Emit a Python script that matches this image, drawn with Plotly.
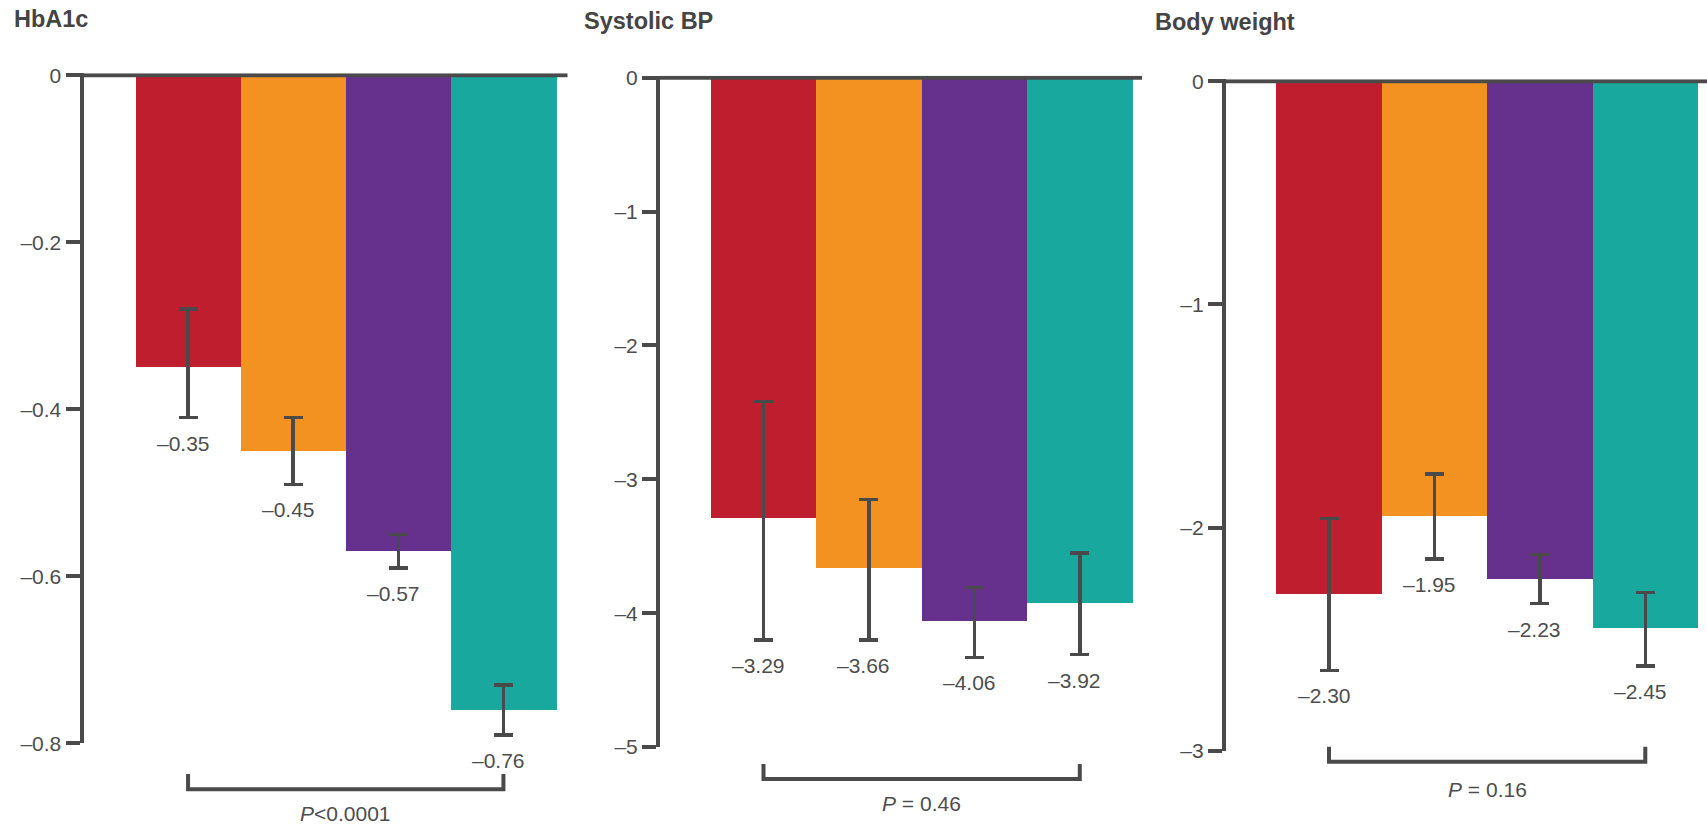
import plotly.graph_objects as go

W, H = 1707, 827

# Treatment arms (one bar per arm in every panel)
arms = [0, 1, 2, 3]
arm_colors = ["#BE1E2E", "#F39220", "#66308D", "#19A89D"]

# HbA1c change
hba1c_mean = [-0.35, -0.45, -0.57, -0.76]
hba1c_ci_upper = [-0.28, -0.41, -0.55, -0.73]
hba1c_ci_lower = [-0.41, -0.49, -0.59, -0.79]
hba1c_ticks = [0, -0.2, -0.4, -0.6, -0.8]
hba1c_ticktext = ["0", "–0.2", "–0.4", "–0.6", "–0.8"]

# Systolic blood pressure change
sbp_mean = [-3.29, -3.66, -4.06, -3.92]
sbp_ci_upper = [-2.42, -3.15, -3.81, -3.55]
sbp_ci_lower = [-4.20, -4.20, -4.33, -4.31]
sbp_ticks = [0, -1, -2, -3, -4, -5]
sbp_ticktext = ["0", "–1", "–2", "–3", "–4", "–5"]

# Body weight change
weight_mean = [-2.30, -1.95, -2.23, -2.45]
weight_ci_upper = [-1.96, -1.76, -2.12, -2.29]
weight_ci_lower = [-2.64, -2.14, -2.34, -2.62]
weight_ticks = [0, -1, -2, -3]
weight_ticktext = ["0", "–1", "–2", "–3"]

titles = ["HbA1c", "Systolic BP", "Body weight"]
p_labels = ["<i>P</i>&lt;0.0001", "<i>P</i> = 0.46", "<i>P</i> = 0.16"]

panels = [
    (hba1c_mean, hba1c_ci_upper, hba1c_ci_lower, hba1c_ticks, hba1c_ticktext),
    (sbp_mean, sbp_ci_upper, sbp_ci_lower, sbp_ticks, sbp_ticktext),
    (weight_mean, weight_ci_upper, weight_ci_lower, weight_ticks, weight_ticktext),
]

# Panel geometry in page pixels:
# plot left, first bar left, last bar right, plot right, zero line y, bottom tick y,
# bracket top y, bracket bottom y, P label y, title x, title y
geometry = [
    dict(pl=83.5, bl=135.5, br=556.0, pr=567.5, y0=75.3, yb=743.3,
         bt=774.0, bb=789.3, py=813.0, tx=11.5, ty=19.0),
    dict(pl=660.0, bl=710.8, br=1132.5, pr=1142.1, y0=77.8, yb=747.0,
         bt=764.0, bb=779.0, py=803.0, tx=581.5, ty=21.0),
    dict(pl=1225.9, bl=1276.3, br=1698.0, pr=1707.0, y0=81.3, yb=750.8,
         bt=746.7, bb=761.7, py=789.0, tx=1152.7, ty=21.5),
]

AXIS = "#4a4a4a"
TEXT = "#4d4d4d"
FONT = "Liberation Sans, Arial, sans-serif"
FS = 21

fig = go.Figure()
layout = dict(
    width=W, height=H, margin=dict(l=0, r=0, t=0, b=0),
    paper_bgcolor="white", plot_bgcolor="white",
    showlegend=False, bargap=0,
    font=dict(family=FONT, color=TEXT, size=FS),
)
shapes = []
annotations = []

for k, ((mean, ci_hi, ci_lo, tvals, ttext), g) in enumerate(zip(panels, geometry)):
    n = "" if k == 0 else str(k + 1)
    xa, ya = "x" + n, "y" + n

    bar_w = (g["br"] - g["bl"]) / len(arms)
    x_left = -0.5 - (g["bl"] - g["pl"]) / bar_w
    x_right = x_left + (g["pr"] - g["pl"]) / bar_w

    px_per_unit = (g["yb"] - g["y0"]) / abs(tvals[-1])
    top_px = g["y0"] - 2.0
    y_top = 2.0 / px_per_unit
    dom_h = g["yb"] - top_px

    fig.add_trace(go.Bar(
        x=arms, y=mean, width=1.0,
        marker=dict(color=arm_colors, line=dict(width=0)),
        error_y=dict(
            type="data", symmetric=False,
            array=[u - m for u, m in zip(ci_hi, mean)],
            arrayminus=[m - l for m, l in zip(mean, ci_lo)],
            color=AXIS, thickness=3.5, width=9.5,
        ),
        xaxis=xa, yaxis=ya, hoverinfo="skip",
    ))

    layout["xaxis" + n] = dict(
        domain=[g["pl"] / W, min(g["pr"] / W, 1.0)],
        range=[x_left, x_right], visible=False, anchor=ya,
    )
    layout["yaxis" + n] = dict(
        domain=[1 - g["yb"] / H, 1 - top_px / H],
        range=[tvals[-1], y_top], anchor=xa,
        tickvals=tvals, ticktext=ttext,
        ticks="outside", ticklen=14, tickwidth=4, tickcolor=AXIS,
        showline=True, linewidth=4, linecolor=AXIS,
        zeroline=False, showgrid=False, automargin=False,
        tickfont=dict(family=FONT, size=FS, color=TEXT),
    )

    # zero reference line across the panel
    shapes.append(dict(
        type="line", xref=xa + " domain", yref=ya,
        x0=0, x1=1, y0=0, y1=0,
        line=dict(color=AXIS, width=4), layer="above",
    ))

    # comparison bracket from first to last arm
    b_top = (g["yb"] - g["bt"]) / dom_h
    b_bot = (g["yb"] - g["bb"]) / dom_h
    shapes.append(dict(
        type="path", xref=xa, yref=ya + " domain",
        path=f"M {arms[0]},{b_top} L {arms[0]},{b_bot} L {arms[-1]},{b_bot} L {arms[-1]},{b_top}",
        line=dict(color=AXIS, width=4), layer="above",
    ))

    annotations.append(dict(
        xref=xa, yref=ya + " domain",
        x=(arms[0] + arms[-1]) / 2, y=(g["yb"] - g["py"]) / dom_h,
        text=p_labels[k], showarrow=False, xanchor="center", yanchor="middle",
        font=dict(family=FONT, size=FS, color=TEXT),
    ))

    # value labels under each error bar
    for xi, m, lo in zip(arms, mean, ci_lo):
        label = ("–" if m < 0 else "") + f"{abs(m):.2f}"
        annotations.append(dict(
            xref=xa, yref=ya, x=xi, y=lo, text=label,
            showarrow=False, xanchor="center", yanchor="top",
            yshift=-12, xshift=-5,
            font=dict(family=FONT, size=FS, color=TEXT),
        ))

    # panel title
    annotations.append(dict(
        xref="paper", yref="paper", x=g["tx"] / W, y=1 - g["ty"] / H,
        text=f"<b>{titles[k]}</b>", showarrow=False,
        xanchor="left", yanchor="middle",
        font=dict(family=FONT, size=23.5, color="#444444"),
    ))

layout["shapes"] = shapes
layout["annotations"] = annotations
fig.update_layout(**layout)

fig.write_html("out.html")
